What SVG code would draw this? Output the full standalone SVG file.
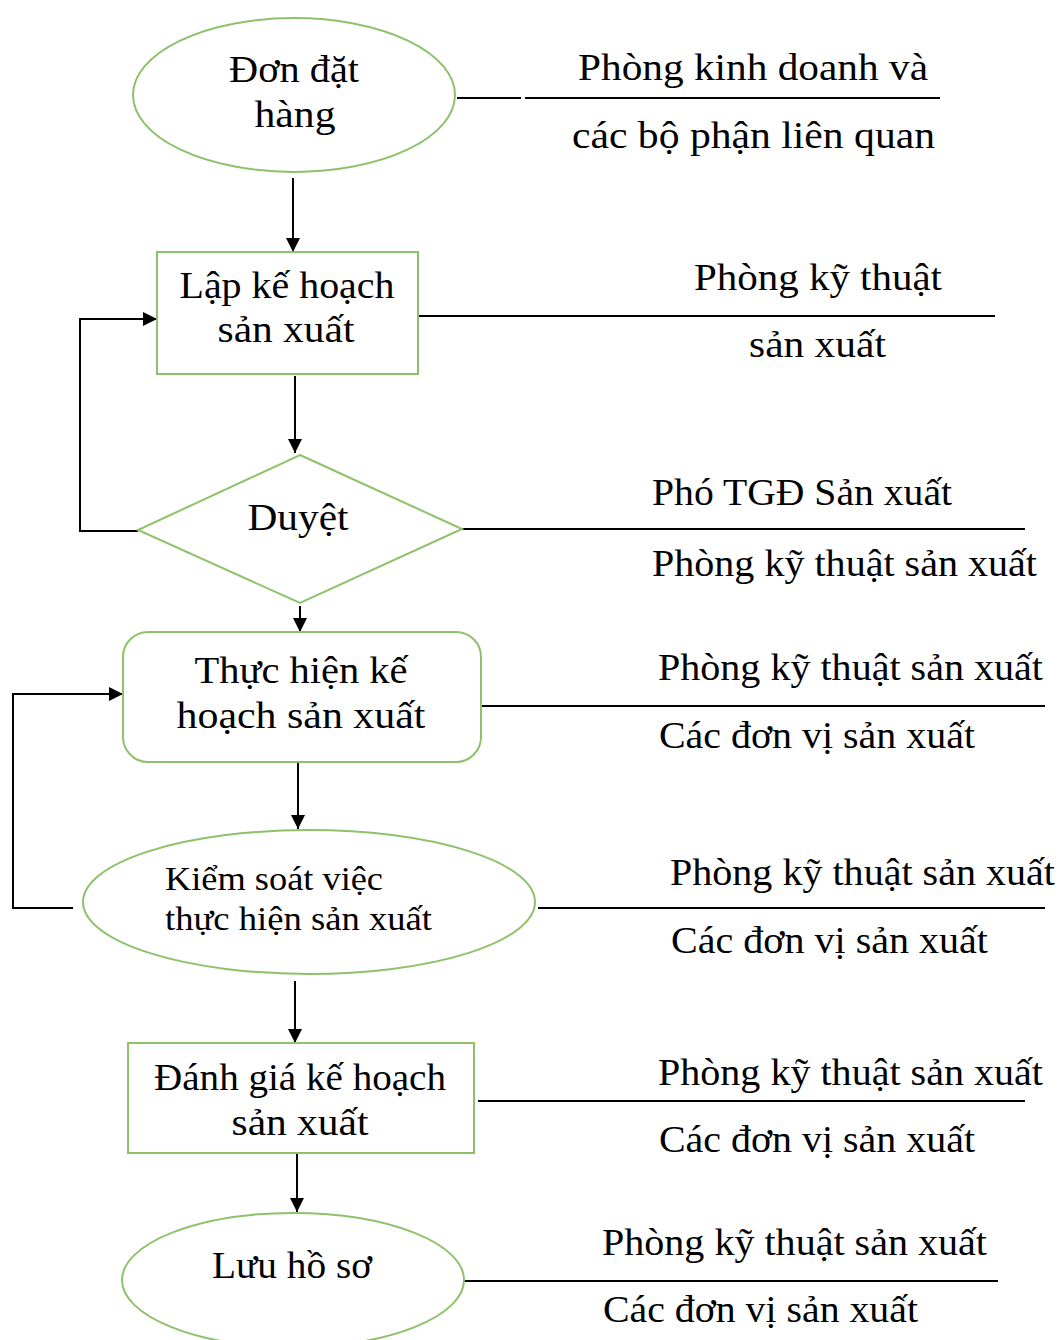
<svg xmlns="http://www.w3.org/2000/svg" width="1061" height="1340" viewBox="0 0 1061 1340">
  <style>
    .shape { fill: #ffffff; stroke: #8dc26b; stroke-width: 2; }
    .conn { fill: none; stroke: #000000; stroke-width: 2; }
    .rule { fill: none; stroke: #000000; stroke-width: 2; }
    text { font-family: "Liberation Serif", "Times New Roman", serif; fill: #000000; }
    .t { font-size: 37px; }
    .ts { font-size: 34px; }
    .mid { text-anchor: middle; }
  </style>
  <defs>
    <marker id="arrow" markerUnits="userSpaceOnUse" markerWidth="16" markerHeight="16" refX="14" refY="7" orient="auto">
      <path d="M0,0 L14,7 L0,14 Z" fill="#000000"/>
    </marker>
  </defs>

  <rect width="1061" height="1340" fill="#ffffff"/>

  <!-- connectors, responsibility rules and feedback loops -->
  <g id="connectors">
    <line class="conn" x1="293" y1="178" x2="293" y2="252" marker-end="url(#arrow)"/>
    <line class="conn" x1="295" y1="376" x2="295" y2="453" marker-end="url(#arrow)"/>
    <line class="conn" x1="300" y1="606" x2="300" y2="632" marker-end="url(#arrow)"/>
    <line class="conn" x1="298" y1="763" x2="298" y2="829" marker-end="url(#arrow)"/>
    <line class="conn" x1="295" y1="981" x2="295" y2="1043" marker-end="url(#arrow)"/>
    <line class="conn" x1="297" y1="1150" x2="297" y2="1212" marker-end="url(#arrow)"/>
    <polyline class="conn" points="138,531 80,531 80,319 157,319" marker-end="url(#arrow)"/>
    <polyline class="conn" points="73,908 13,908 13,694 123,694" marker-end="url(#arrow)"/>

    <line class="rule" x1="457" y1="98" x2="521" y2="98"/>
    <line class="rule" x1="525" y1="98" x2="940" y2="98"/>
    <line class="rule" x1="418" y1="316" x2="995" y2="316"/>
    <line class="rule" x1="462" y1="529" x2="1025" y2="529"/>
    <line class="rule" x1="481" y1="706" x2="1045" y2="706"/>
    <line class="rule" x1="538" y1="908" x2="1045" y2="908"/>
    <line class="rule" x1="478" y1="1101" x2="1025" y2="1101"/>
    <line class="rule" x1="463" y1="1281" x2="998" y2="1281"/>
  </g>

  <g id="node-don-dat-hang">
    <ellipse class="shape" cx="294" cy="95" rx="161" ry="77"/>
    <text class="t mid" x="294" y="82" textLength="130" lengthAdjust="spacingAndGlyphs">Đơn đặt</text>
    <text class="t mid" x="295" y="127" textLength="81" lengthAdjust="spacingAndGlyphs">hàng</text>
  </g>

  <g id="node-lap-ke-hoach">
    <rect class="shape" x="157" y="252" width="261" height="122"/>
    <text class="t mid" x="287" y="298" textLength="215" lengthAdjust="spacingAndGlyphs">Lập kế hoạch</text>
    <text class="t mid" x="286" y="342" textLength="137" lengthAdjust="spacingAndGlyphs">sản xuất</text>
  </g>

  <g id="node-duyet">
    <polygon class="shape" points="300,455 462,529 300,603 138,530"/>
    <text class="t mid" x="298" y="530" textLength="101" lengthAdjust="spacingAndGlyphs">Duyệt</text>
  </g>

  <g id="node-thuc-hien">
    <rect class="shape" x="123" y="632" width="358" height="130" rx="25" ry="25"/>
    <text class="t mid" x="301" y="683" textLength="213" lengthAdjust="spacingAndGlyphs">Thực hiện kế</text>
    <text class="t mid" x="301" y="728" textLength="249" lengthAdjust="spacingAndGlyphs">hoạch sản xuất</text>
  </g>

  <g id="node-kiem-soat">
    <ellipse class="shape" cx="309" cy="902" rx="226" ry="72"/>
    <text class="ts" x="165" y="890" textLength="218" lengthAdjust="spacingAndGlyphs">Kiểm soát việc</text>
    <text class="ts" x="165" y="930" textLength="267" lengthAdjust="spacingAndGlyphs">thực hiện sản xuất</text>
  </g>

  <g id="node-danh-gia">
    <rect class="shape" x="128" y="1043" width="346" height="110"/>
    <text class="t" x="154" y="1090" textLength="292" lengthAdjust="spacingAndGlyphs">Đánh giá kế hoạch</text>
    <text class="t mid" x="300" y="1135" textLength="137" lengthAdjust="spacingAndGlyphs">sản xuất</text>
  </g>

  <g id="node-luu-ho-so">
    <ellipse class="shape" cx="293" cy="1280" rx="171" ry="67"/>
    <text class="t" x="212" y="1278" textLength="160" lengthAdjust="spacingAndGlyphs">Lưu hồ sơ</text>
  </g>

  <!-- responsible departments for each step -->
  <g id="responsibilities">
    <text class="t" x="578" y="80" textLength="350" lengthAdjust="spacingAndGlyphs">Phòng kinh doanh và</text>
    <text class="t" x="572" y="148" textLength="363" lengthAdjust="spacingAndGlyphs">các bộ phận liên quan</text>

    <text class="t" x="694" y="290" textLength="248" lengthAdjust="spacingAndGlyphs">Phòng kỹ thuật</text>
    <text class="t" x="749" y="357" textLength="137" lengthAdjust="spacingAndGlyphs">sản xuất</text>

    <text class="t" x="652" y="505" textLength="300" lengthAdjust="spacingAndGlyphs">Phó TGĐ Sản xuất</text>
    <text class="t" x="652" y="576" textLength="385" lengthAdjust="spacingAndGlyphs">Phòng kỹ thuật sản xuất</text>

    <text class="t" x="658" y="680" textLength="385" lengthAdjust="spacingAndGlyphs">Phòng kỹ thuật sản xuất</text>
    <text class="t" x="659" y="748" textLength="316" lengthAdjust="spacingAndGlyphs">Các đơn vị sản xuất</text>

    <text class="t" x="670" y="885" textLength="385" lengthAdjust="spacingAndGlyphs">Phòng kỹ thuật sản xuất</text>
    <text class="t" x="671" y="953" textLength="317" lengthAdjust="spacingAndGlyphs">Các đơn vị sản xuất</text>

    <text class="t" x="658" y="1085" textLength="385" lengthAdjust="spacingAndGlyphs">Phòng kỹ thuật sản xuất</text>
    <text class="t" x="659" y="1152" textLength="316" lengthAdjust="spacingAndGlyphs">Các đơn vị sản xuất</text>

    <text class="t" x="602" y="1255" textLength="385" lengthAdjust="spacingAndGlyphs">Phòng kỹ thuật sản xuất</text>
    <text class="t" x="603" y="1322" textLength="315" lengthAdjust="spacingAndGlyphs">Các đơn vị sản xuất</text>
  </g>
</svg>
